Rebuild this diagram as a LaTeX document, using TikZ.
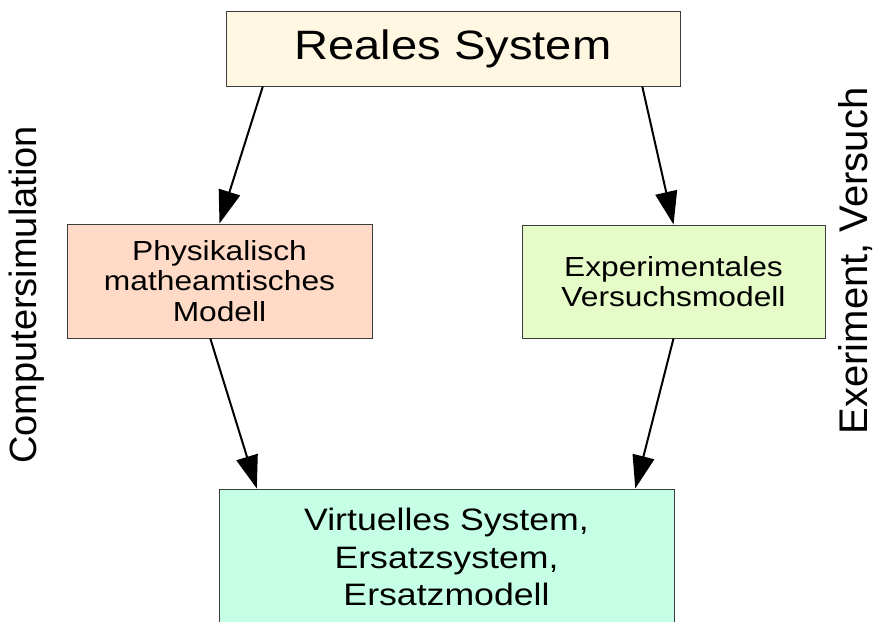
\documentclass[tikz,border=0pt]{standalone}
\usepackage{fontspec}
\setmainfont{Liberation Sans}
\newfontfamily\boxfont[FakeStretch=1.15]{Liberation Sans}
\usetikzlibrary{arrows.meta,calc}

\definecolor{realfill}{RGB}{255,247,225}
\definecolor{physfill}{RGB}{255,218,198}
\definecolor{expfill}{RGB}{230,252,200}
\definecolor{virtfill}{RGB}{196,255,230}
\definecolor{boxline}{RGB}{60,60,60}

\tikzset{
  block/.style={draw=boxline, line width=1pt, align=center, inner sep=0pt, text=black},
  bigtext/.style={font=\boxfont\fontsize{41}{48}\selectfont},
  midtext/.style={font=\boxfont\fontsize{27.6}{30.5}\selectfont},
  lowtext/.style={font=\boxfont\fontsize{31}{37.5}\selectfont},
  sidetext/.style={inner sep=0pt, rotate=90},
  arr/.style={line width=2pt, -{Triangle[length=33pt,width=22pt]}}
}

\begin{document}
\begin{tikzpicture}[x=1pt, y=-1pt]
  \useasboundingbox (0,0) rectangle (875,621);
  \clip (0,0) rectangle (875,621);

  % boxes
  \node[block, bigtext, fill=realfill, minimum width=454pt, minimum height=75pt]
    (real) at (453,48.5) {Reales System};
  \node[block, midtext, fill=physfill, minimum width=305pt, minimum height=114pt]
    (phys) at (219.5,281) {Physikalisch\\matheamtisches\\Modell};
  \node[block, midtext, fill=expfill, minimum width=303pt, minimum height=113pt]
    (exp) at (673.5,281.5) {Experimentales\\Versuchsmodell};
  \node[block, lowtext, fill=virtfill, minimum width=455pt, minimum height=136pt]
    (virt) at (446.5,557) {Virtuelles System,\\Ersatzsystem,\\Ersatzmodell};

  % side labels
  \node[sidetext, font=\fontsize{38}{44}\selectfont] (sim) at (27,295) {Computersimulation};
  \node[sidetext, font=\fontsize{40}{46}\selectfont] (versuch) at (856,261) {Exeriment, Versuch};

  % connectors
  \draw[arr] ($(real.south west)!0.082!(real.south east)$) -- (phys.north);
  \draw[arr] ($(real.south west)!0.916!(real.south east)$) -- (exp.north);
  \draw[arr] ($(phys.south west)!0.47!(phys.south east)$)
             -- ($(virt.north west)!0.084!(virt.north east)$);
  \draw[arr] (exp.south) -- ($(virt.north west)!0.914!(virt.north east)$);
\end{tikzpicture}
\end{document}
